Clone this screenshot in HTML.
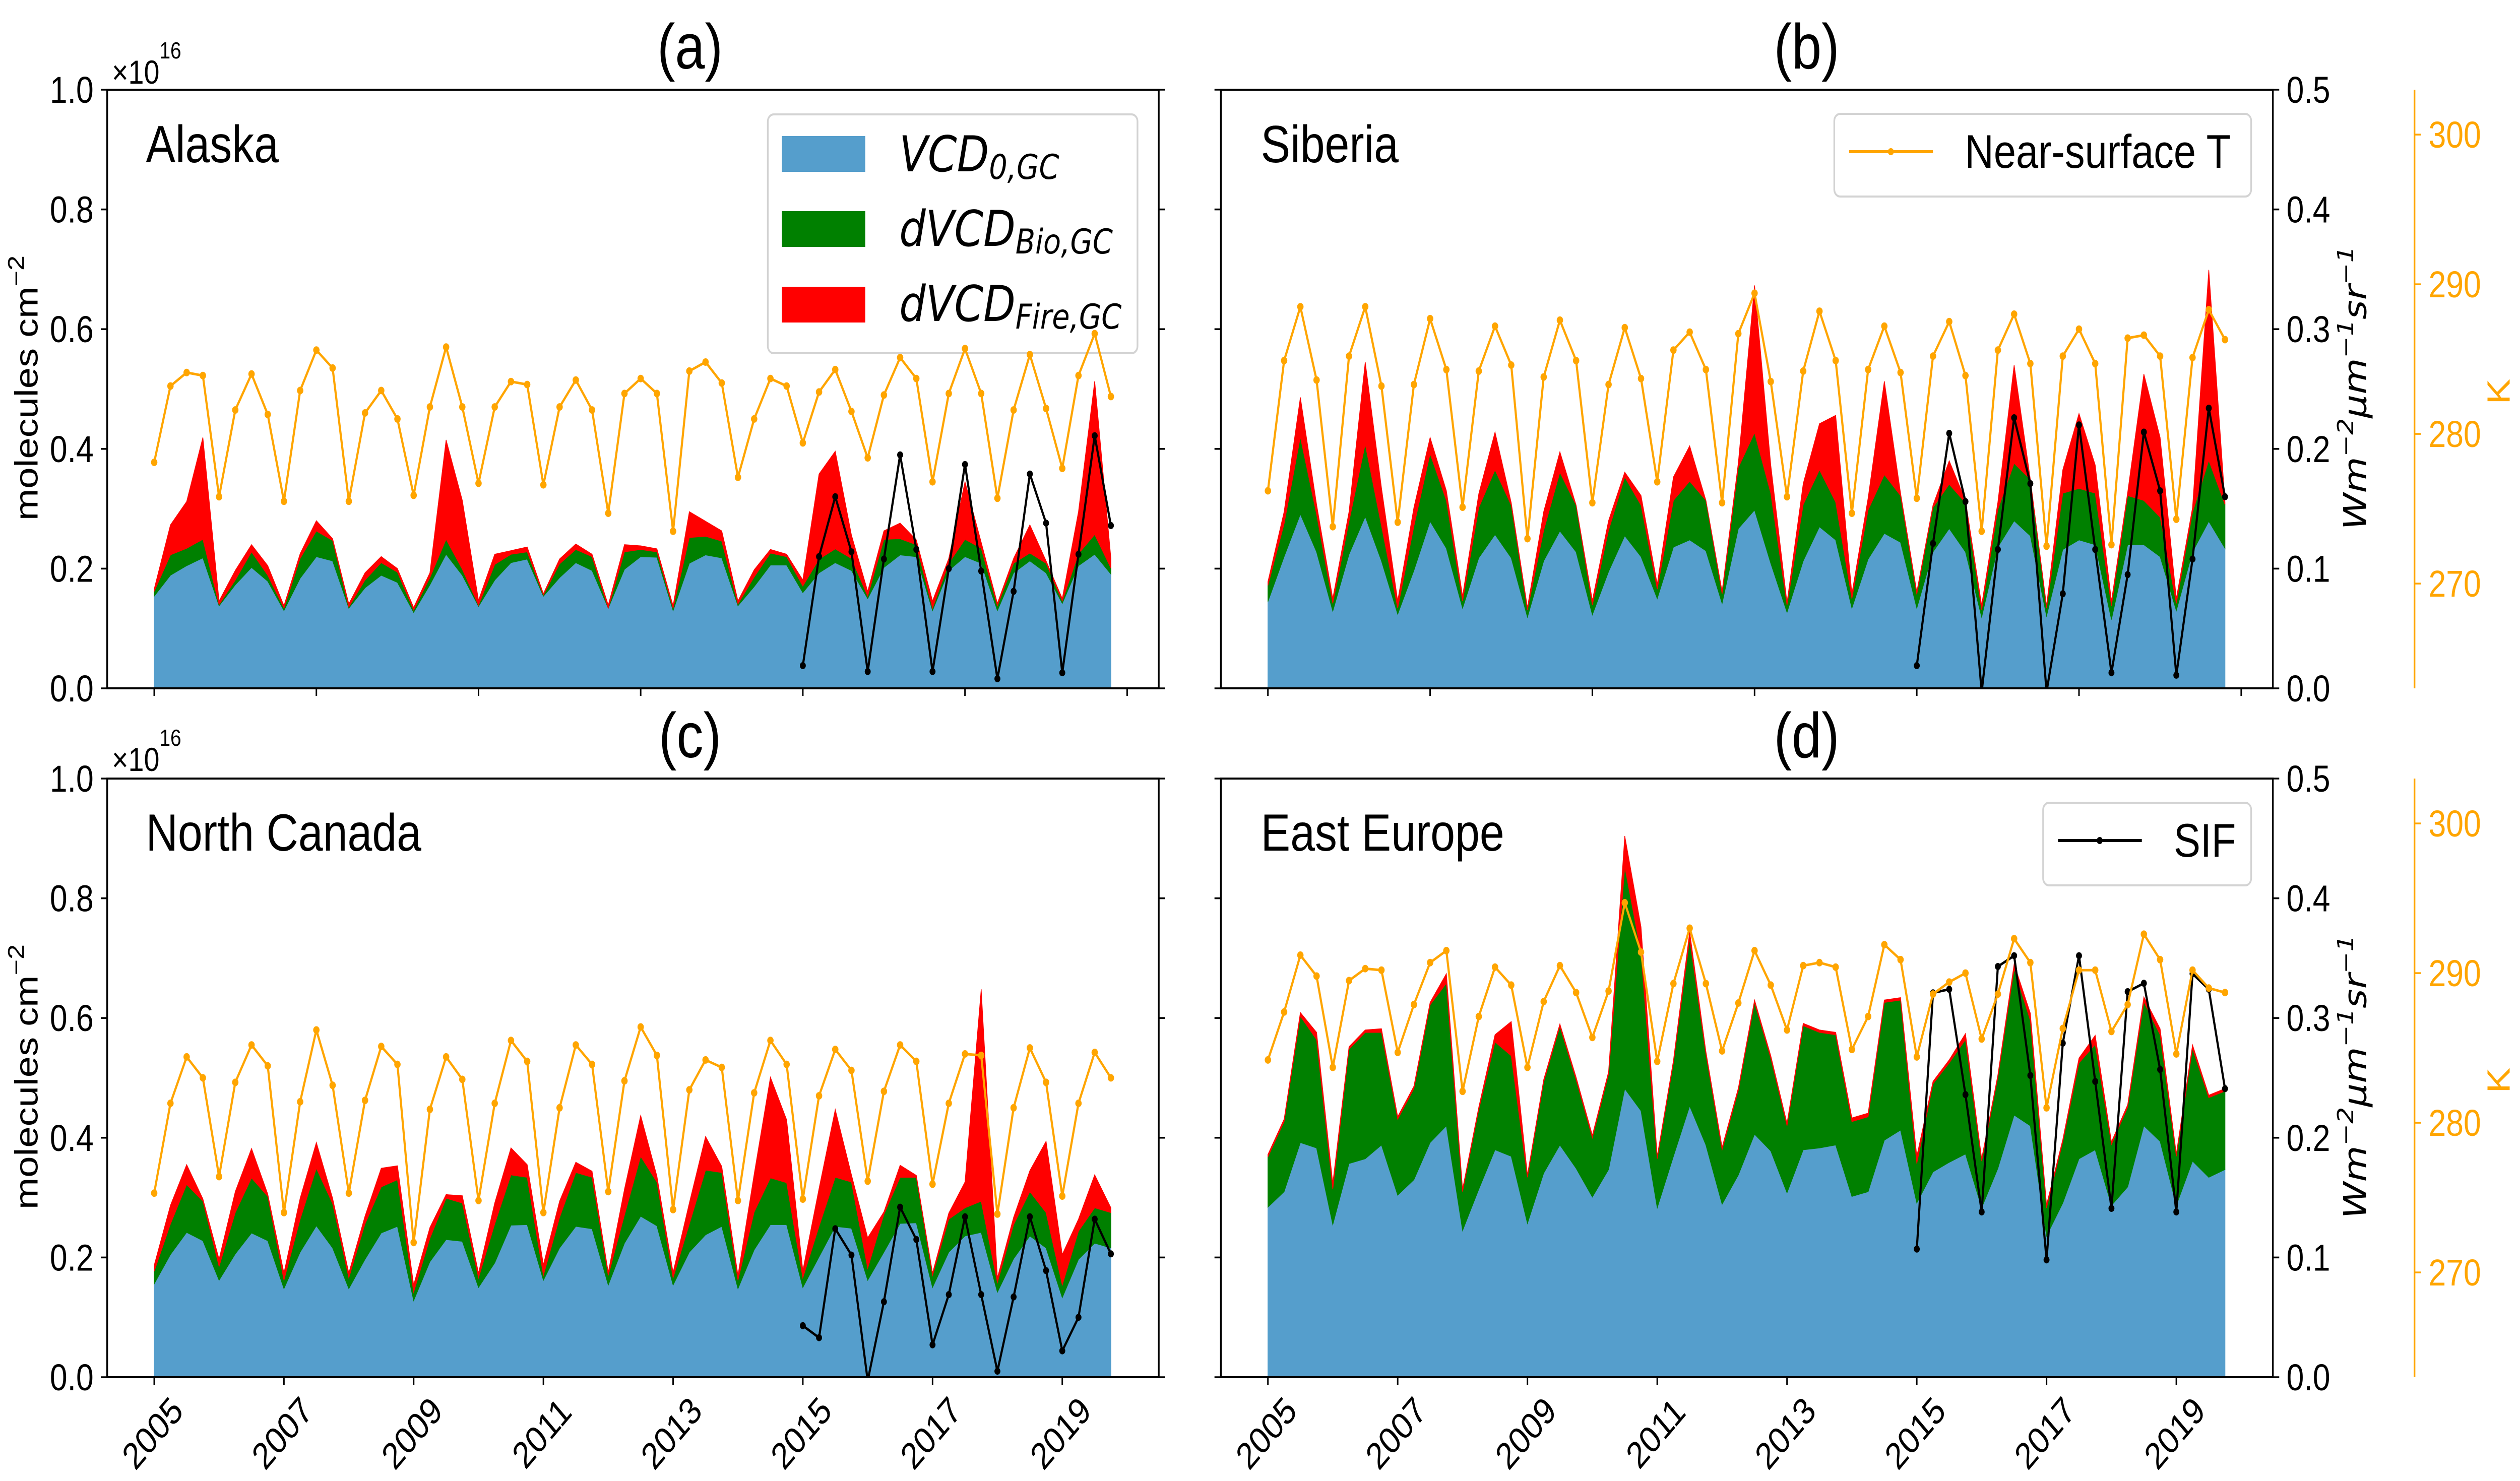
<!DOCTYPE html>
<html><head><meta charset="utf-8"><title>VCD stacks with SIF and temperature</title>
<style>
html,body{margin:0;padding:0;background:#fff;width:100%;height:100%;overflow:hidden;}
svg{display:block;width:100vw;height:100vh;font-family:"Liberation Sans",Arial,sans-serif;}
.tl{font-size:74px;fill:#000;}
.tk{font-size:74px;fill:#FFA500;}
.ttl{font-size:126px;text-anchor:middle;}
.reg{font-size:104px;}
.math{font-family:"DejaVu Sans",sans-serif;font-style:italic;}
</style></head>
<body>
<svg id="fig" xmlns="http://www.w3.org/2000/svg" viewBox="0 0 5924 2939" preserveAspectRatio="none">
<rect x="0" y="0" width="5924" height="2939" fill="#fff"/>
<g id="marks"></g>
<text class="ttl" x="1622" y="136">(a)</text>
<text class="ttl" x="4247" y="136">(b)</text>
<text class="ttl" x="1622" y="1503">(c)</text>
<text class="ttl" x="4247" y="1503">(d)</text>
<text class="reg" x="343" y="322">Alaska</text>
<text class="reg" x="2964" y="322">Siberia</text>
<text class="reg" x="343" y="1688">North Canada</text>
<text class="reg" x="2964" y="1688">East Europe</text>
<text x="263" y="166" font-size="66">×10<tspan font-size="46" dy="-50">16</tspan></text>
<text x="263" y="1530" font-size="66">×10<tspan font-size="46" dy="-50">16</tspan></text>
<text x="0" y="0" font-size="76" text-anchor="middle" transform="translate(88,770) rotate(-90)">molecules cm<tspan font-size="54" dy="-32">−2</tspan></text>
<text x="0" y="0" font-size="76" text-anchor="middle" transform="translate(88,2137) rotate(-90)">molecules cm<tspan font-size="54" dy="-32">−2</tspan></text>
<text class="math" x="0" y="0" font-size="74" text-anchor="middle" transform="translate(5562,770) rotate(-90)">Wm<tspan font-size="52" dy="-30">−2</tspan><tspan dy="30">μm</tspan><tspan font-size="52" dy="-30">−1</tspan><tspan dy="30">sr</tspan><tspan font-size="52" dy="-30">−1</tspan></text>
<text class="math" x="0" y="0" font-size="74" text-anchor="middle" transform="translate(5562,2137) rotate(-90)">Wm<tspan font-size="52" dy="-30">−2</tspan><tspan dy="30">μm</tspan><tspan font-size="52" dy="-30">−1</tspan><tspan dy="30">sr</tspan><tspan font-size="52" dy="-30">−1</tspan></text>
<text x="0" y="0" font-size="76" fill="#FFA500" text-anchor="middle" transform="translate(5900,777) rotate(-90)">K</text>
<text x="0" y="0" font-size="76" fill="#FFA500" text-anchor="middle" transform="translate(5900,2144) rotate(-90)">K</text>
<g id="legends"></g>
</svg>
<script>
const xTickLabels = ['2005','2007','2009','2011','2013','2015','2017','2019'];
const bottomXTicks = [0,8,16,24,32,40,48,56];
const topXTicks = [0,10,20,30,40,50,60];
const leftTicks = [0,0.2,0.4,0.6,0.8,1.0];
const leftTickLabels = ['0.0','0.2','0.4','0.6','0.8','1.0'];
const sifTicks = [0,0.1,0.2,0.3,0.4,0.5];
const sifTickLabels = ['0.0','0.1','0.2','0.3','0.4','0.5'];
const kTicks = [270,280,290,300];
const kTickLabels = ['270','280','290','300'];
const sifStartIndex = 40;

const alaskaVcd0 = [0.154,0.189,0.205,0.218,0.138,0.173,0.202,0.179,0.130,0.184,0.220,0.213,0.134,0.168,0.189,0.177,0.127,0.173,0.224,0.189,0.137,0.181,0.210,0.216,0.154,0.185,0.210,0.197,0.134,0.199,0.220,0.219,0.130,0.209,0.223,0.218,0.138,0.170,0.206,0.206,0.160,0.193,0.210,0.197,0.150,0.202,0.223,0.220,0.130,0.197,0.220,0.209,0.130,0.193,0.213,0.193,0.142,0.205,0.224,0.191];
const alaskaBio = [0.008,0.034,0.029,0.031,0.002,0.008,0.026,0.010,0.004,0.033,0.043,0.034,0.002,0.013,0.021,0.017,0.004,0.012,0.025,0.010,0.002,0.026,0.014,0.012,0.002,0.023,0.022,0.023,0.000,0.029,0.012,0.009,0.004,0.043,0.031,0.028,0.003,0.016,0.020,0.014,0.011,0.023,0.023,0.020,0.004,0.047,0.027,0.020,0.004,0.012,0.029,0.025,0.008,0.016,0.013,0.016,0.004,0.020,0.033,0.010];
const alaskaFire = [0.004,0.050,0.078,0.170,0.006,0.016,0.012,0.016,0.004,0.008,0.017,0.003,0.005,0.012,0.010,0.006,0.004,0.008,0.166,0.115,0.008,0.017,0.006,0.008,0.002,0.008,0.009,0.004,0.005,0.012,0.006,0.005,0.004,0.043,0.025,0.017,0.005,0.012,0.006,0.004,0.010,0.142,0.163,0.039,0.008,0.014,0.026,0.008,0.012,0.008,0.096,0.010,0.004,0.008,0.047,0.004,0.004,0.070,0.256,0.016];
const alaskaTemp = [278.1,283.2,284.1,283.9,275.8,281.6,284.0,281.3,275.5,282.9,285.6,284.4,275.5,281.4,282.9,281.0,275.9,281.8,285.8,281.8,276.7,281.8,283.5,283.3,276.6,281.8,283.6,281.6,274.7,282.7,283.7,282.7,273.5,284.2,284.8,283.4,277.1,281.0,283.7,283.2,279.4,282.8,284.3,281.5,278.4,282.6,285.1,283.7,276.8,282.7,285.7,282.7,275.7,281.6,285.3,281.7,277.7,283.9,286.7,282.5];
const alaskaSif = [0.019,0.110,0.160,0.114,0.014,0.108,0.195,0.116,0.014,0.100,0.187,0.098,0.008,0.081,0.179,0.138,0.013,0.112,0.211,0.136];

const siberiaVcd0 = [0.145,0.220,0.291,0.228,0.129,0.224,0.287,0.213,0.124,0.197,0.279,0.234,0.134,0.218,0.257,0.218,0.119,0.213,0.263,0.228,0.123,0.195,0.255,0.220,0.150,0.236,0.248,0.230,0.142,0.267,0.298,0.209,0.127,0.213,0.270,0.248,0.134,0.216,0.259,0.244,0.134,0.228,0.267,0.228,0.119,0.236,0.280,0.255,0.121,0.232,0.248,0.240,0.115,0.240,0.240,0.220,0.130,0.228,0.279,0.234];
const siberiaBio = [0.027,0.055,0.129,0.063,0.013,0.055,0.121,0.059,0.010,0.074,0.113,0.080,0.012,0.084,0.108,0.088,0.012,0.051,0.098,0.078,0.016,0.069,0.098,0.086,0.016,0.078,0.098,0.084,0.016,0.102,0.129,0.117,0.012,0.094,0.095,0.063,0.016,0.082,0.098,0.078,0.023,0.074,0.074,0.082,0.012,0.063,0.096,0.094,0.013,0.094,0.086,0.086,0.023,0.082,0.074,0.066,0.012,0.066,0.102,0.073];
const siberiaFire = [0.006,0.020,0.066,0.016,0.008,0.016,0.137,0.063,0.012,0.031,0.027,0.016,0.008,0.023,0.063,0.004,0.004,0.031,0.034,0.000,0.008,0.016,0.008,0.016,0.008,0.039,0.059,0.000,0.004,0.008,0.246,0.047,0.004,0.035,0.077,0.145,0.008,0.020,0.156,0.004,0.004,0.004,0.039,0.004,0.008,0.012,0.164,0.000,0.004,0.039,0.125,0.047,0.008,0.005,0.211,0.133,0.008,0.008,0.318,0.004];
const siberiaTemp = [276.2,284.9,288.5,283.6,273.8,285.2,288.5,283.2,274.1,283.3,287.7,284.3,275.1,284.2,287.2,284.6,273.0,283.8,287.6,284.9,275.4,283.3,287.1,283.7,276.8,285.6,286.8,284.3,275.4,286.7,289.4,283.5,275.8,284.2,288.2,284.9,274.7,284.3,287.2,284.1,275.7,285.2,287.5,283.9,273.5,285.6,288.0,284.7,272.5,285.2,287.0,284.7,272.6,286.4,286.6,285.2,274.3,285.1,288.3,286.3];
const siberiaSif = [0.019,0.121,0.213,0.156,-0.003,0.116,0.226,0.171,-0.003,0.079,0.220,0.116,0.013,0.095,0.214,0.165,0.011,0.108,0.234,0.160];

const canadaVcd0 = [0.156,0.205,0.242,0.228,0.162,0.206,0.241,0.228,0.148,0.209,0.253,0.216,0.148,0.197,0.241,0.252,0.128,0.193,0.230,0.227,0.150,0.191,0.254,0.255,0.162,0.216,0.252,0.248,0.154,0.224,0.269,0.253,0.154,0.209,0.238,0.252,0.148,0.213,0.255,0.255,0.150,0.201,0.252,0.249,0.162,0.209,0.257,0.258,0.150,0.209,0.236,0.242,0.142,0.198,0.236,0.216,0.133,0.197,0.224,0.216];
const canadaBio = [0.021,0.051,0.080,0.066,0.023,0.069,0.092,0.074,0.014,0.055,0.096,0.074,0.018,0.059,0.077,0.078,0.014,0.039,0.069,0.064,0.016,0.065,0.084,0.079,0.008,0.051,0.090,0.086,0.016,0.047,0.100,0.073,0.012,0.047,0.108,0.090,0.014,0.063,0.078,0.070,0.016,0.051,0.082,0.077,0.020,0.063,0.077,0.076,0.020,0.055,0.047,0.052,0.016,0.057,0.074,0.059,0.021,0.047,0.059,0.059];
const canadaFire = [0.010,0.031,0.033,0.004,0.012,0.035,0.049,0.004,0.012,0.035,0.043,0.009,0.008,0.013,0.031,0.023,0.012,0.018,0.006,0.012,0.008,0.035,0.045,0.021,0.018,0.027,0.017,0.010,0.005,0.043,0.068,0.010,0.009,0.035,0.056,0.010,0.008,0.063,0.168,0.105,0.012,0.063,0.113,0.012,0.051,0.004,0.020,0.003,0.004,0.010,0.043,0.354,0.008,0.012,0.035,0.119,0.051,0.020,0.055,0.008];
const canadaTemp = [275.3,281.3,284.4,283.0,276.4,282.7,285.2,283.8,274.0,281.4,286.2,282.5,275.3,281.5,285.1,283.9,272.0,280.9,284.4,282.9,274.8,281.3,285.5,284.1,274.0,281.0,285.2,283.9,275.4,282.8,286.4,284.5,274.2,282.2,284.2,283.7,274.8,282.0,285.5,283.9,274.9,281.8,284.9,283.5,276.1,282.1,285.2,284.1,275.9,281.3,284.6,284.5,273.9,281.0,285.0,282.7,275.1,281.3,284.7,283.0];
const canadaSif = [0.043,0.033,0.124,0.102,-0.003,0.063,0.142,0.115,0.027,0.069,0.134,0.069,0.005,0.067,0.134,0.089,0.022,0.050,0.132,0.103];

const europeVcd0 = [0.284,0.310,0.392,0.383,0.255,0.357,0.365,0.388,0.304,0.330,0.392,0.420,0.245,0.314,0.380,0.369,0.257,0.341,0.388,0.349,0.301,0.347,0.482,0.445,0.283,0.369,0.453,0.388,0.289,0.338,0.406,0.378,0.308,0.380,0.383,0.388,0.302,0.310,0.396,0.413,0.291,0.343,0.359,0.373,0.283,0.349,0.438,0.420,0.236,0.291,0.365,0.380,0.287,0.318,0.420,0.394,0.287,0.361,0.334,0.347];
const europeBio = [0.084,0.117,0.211,0.181,0.059,0.191,0.211,0.188,0.127,0.152,0.230,0.238,0.065,0.133,0.180,0.168,0.077,0.152,0.198,0.148,0.099,0.159,0.371,0.264,0.082,0.156,0.279,0.152,0.091,0.141,0.220,0.155,0.112,0.207,0.193,0.184,0.125,0.125,0.230,0.217,0.066,0.147,0.166,0.191,0.078,0.152,0.244,0.176,0.047,0.102,0.160,0.176,0.102,0.133,0.207,0.178,0.082,0.188,0.133,0.131];
const europeFire = [0.004,0.004,0.006,0.012,0.010,0.004,0.004,0.006,0.004,0.004,0.004,0.016,0.004,0.004,0.012,0.057,0.004,0.004,0.004,0.004,0.004,0.004,0.051,0.043,0.004,0.004,0.012,0.004,0.004,0.004,0.004,0.004,0.004,0.004,0.004,0.004,0.006,0.006,0.004,0.004,0.012,0.004,0.005,0.010,0.004,0.004,0.008,0.012,0.005,0.004,0.008,0.015,0.004,0.004,0.008,0.010,0.004,0.006,0.004,0.004];
const europeTemp = [284.2,287.4,291.2,289.8,283.7,289.5,290.3,290.2,284.7,287.9,290.7,291.5,282.1,287.1,290.4,289.2,283.7,288.1,290.5,288.7,285.7,288.8,294.7,291.4,284.1,289.3,293.0,289.3,284.8,288.0,291.5,289.2,286.2,290.5,290.7,290.4,284.9,287.1,291.9,290.9,284.4,288.6,289.4,290.0,285.6,288.6,292.3,290.7,281.0,286.3,290.2,290.2,286.1,287.9,292.6,290.9,284.6,290.2,289.0,288.7];
const europeSif = [0.107,0.321,0.324,0.236,0.138,0.343,0.352,0.252,0.098,0.279,0.352,0.247,0.141,0.322,0.329,0.257,0.138,0.337,0.324,0.241];

const NS = 'http://www.w3.org/2000/svg';
const XMIN = -2.9, XMAX = 61.95, KMIN = 263, KMAX = 303;
const panels = [
  {id:'a', x0:252, x1:2724, y0:178, y1:1366, left:true, bottom:false, vcd0:alaskaVcd0, bio:alaskaBio, fire:alaskaFire, temp:alaskaTemp, sif:alaskaSif},
  {id:'b', x0:2870, x1:5343, y0:178, y1:1366, left:false, bottom:false, vcd0:siberiaVcd0, bio:siberiaBio, fire:siberiaFire, temp:siberiaTemp, sif:siberiaSif},
  {id:'c', x0:252, x1:2724, y0:1545, y1:2733, left:true, bottom:true, vcd0:canadaVcd0, bio:canadaBio, fire:canadaFire, temp:canadaTemp, sif:canadaSif},
  {id:'d', x0:2870, x1:5343, y0:1545, y1:2733, left:false, bottom:true, vcd0:europeVcd0, bio:europeBio, fire:europeFire, temp:europeTemp, sif:europeSif}
];
function xS(p,i){ return p.x0 + (i - XMIN)/(XMAX - XMIN)*(p.x1 - p.x0); }
function yL(p,v){ return p.y1 - v*(p.y1 - p.y0); }
function yS(p,v){ return p.y1 - v/0.5*(p.y1 - p.y0); }
function yK(p,v){ return p.y1 - (v - KMIN)/(KMAX - KMIN)*(p.y1 - p.y0); }
function mk(tag, attrs, parent){
  const e = document.createElementNS(NS, tag);
  for (const k in attrs) e.setAttribute(k, attrs[k]);
  parent.appendChild(e);
  return e;
}
const svg = document.getElementById('fig');
const marks = document.getElementById('marks');
const legends = document.getElementById('legends');
const defs = mk('defs', {}, svg);

panels.forEach(p => {
  const g = mk('g', {}, marks);
  
  
  const clip = mk('clipPath', {id:'clip-' + p.id}, defs);
  mk('rect', {x:p.x0, y:p.y0, width:p.x1-p.x0, height:p.y1-p.y0}, clip);
  const dg = mk('g', {'clip-path':'url(#clip-' + p.id + ')'}, g);
  
  

  const n = p.vcd0.length;
  const c1 = [], c2 = [], c3 = [];
  for (let i = 0; i < n; i++) {
    c1.push(p.vcd0[i]);
    c2.push(p.vcd0[i] + p.bio[i]);
    c3.push(p.vcd0[i] + p.bio[i] + p.fire[i]);
  }
  const zero = new Array(n).fill(0);
  const layers = [[zero, c1, '#559ECC', 'vcd0-area'], [c1, c2, '#008000', 'bio-area'], [c2, c3, '#FF0000', 'fire-area']];
  layers.forEach(L => {
    let d = '';
    for (let i = 0; i < n; i++) d += (i ? 'L' : 'M') + xS(p,i).toFixed(1) + ',' + yL(p, L[1][i]).toFixed(1);
    for (let i = n - 1; i >= 0; i--) d += 'L' + xS(p,i).toFixed(1) + ',' + yL(p, L[0][i]).toFixed(1);
    const path = mk('path', {d: d + 'Z', fill: L[2], stroke: L[2], 'stroke-width': 1.5}, dg);
    
    
  });

  let sd = '';
  p.sif.forEach((v, k) => { sd += (k ? 'L' : 'M') + xS(p, sifStartIndex + k).toFixed(1) + ',' + yS(p, v).toFixed(1); });
  const sifLine = mk('path', {d: sd, fill:'none', stroke:'#000', 'stroke-width':5, 'stroke-linejoin':'round'}, dg);
  
  
  p.sif.forEach((v, k) => {
    const c = mk('circle', {cx: xS(p, sifStartIndex + k).toFixed(1), cy: yS(p, v).toFixed(1), r: 7, fill:'#000'}, dg);
    
    
  });

  const sp = mk('rect', {x:p.x0, y:p.y0, width:p.x1-p.x0, height:p.y1-p.y0, fill:'none', stroke:'#000', 'stroke-width':4}, g);
  
  

  leftTicks.forEach((t, k) => {
    const y = yL(p, t);
    const tl = mk('line', {x1:p.x0 - 15, x2:p.x0, y1:y, y2:y, stroke:'#000', 'stroke-width':3.5}, g);
    
    
    if (p.left) {
      const tx = mk('text', {x:220, y:y + 26, 'text-anchor':'end', class:'tl'}, g);
      tx.textContent = leftTickLabels[k];
      
      
    }
  });
  sifTicks.forEach((t, k) => {
    const y = yS(p, t);
    const tl = mk('line', {x1:p.x1, x2:p.x1 + 15, y1:y, y2:y, stroke:'#000', 'stroke-width':3.5}, g);
    
    
    if (!p.left) {
      const tx = mk('text', {x:p.x1 + 32, y:y + 26, class:'tl'}, g);
      tx.textContent = sifTickLabels[k];
      
      
    }
  });
  if (!p.left) {
    const kx = 5676;
    const ks = mk('line', {x1:kx, x2:kx, y1:p.y0, y2:p.y1, stroke:'#FFA500', 'stroke-width':4}, g);
    
    
    kTicks.forEach((t, k) => {
      const y = yK(p, t);
      const tl = mk('line', {x1:kx, x2:kx + 15, y1:y, y2:y, stroke:'#FFA500', 'stroke-width':3.5}, g);
      
      
      const tx = mk('text', {x:kx + 33, y:y + 26, class:'tk'}, g);
      tx.textContent = kTickLabels[k];
      
      
    });
  }
  const xt = p.bottom ? bottomXTicks : topXTicks;
  xt.forEach((t, k) => {
    const x = xS(p, t);
    const tl = mk('line', {x1:x, x2:x, y1:p.y1, y2:p.y1 + 15, stroke:'#000', 'stroke-width':3.5}, g);
    
    
    if (p.bottom) {
      const tx = mk('text', {x:0, y:0, 'text-anchor':'middle', 'dominant-baseline':'central', class:'tl', transform:'translate(' + (x - 4).toFixed(1) + ',2844) rotate(-45)'}, g);
      tx.textContent = xTickLabels[k];
      
      
    }
  });
});

(function(){
  const g = mk('g', {}, legends);
  
  
  mk('rect', {x:1805, y:227, width:869, height:474, rx:14, fill:'#fff', 'fill-opacity':0.8, stroke:'#d3d3d3', 'stroke-width':4}, g);
  const rows = [['#559ECC', 270, 340, 'VCD', '0,GC'], ['#008000', 419, 488, 'dVCD', 'Bio,GC'], ['#FF0000', 569, 637, 'dVCD', 'Fire,GC']];
  rows.forEach(r => {
    const pr = mk('rect', {x:1838, y:r[1], width:196, height:71, fill:r[0]}, g);
    
    
    const t = mk('text', {x:2114, y:r[2], class:'math', 'font-size':98}, g);
    
    
    t.appendChild(document.createTextNode(r[3]));
    const s = mk('tspan', {'font-size':68, dy:15}, t);
    s.textContent = r[4];
  });
})();

panels.forEach(p => {
  const g = mk('g', {'clip-path':'url(#clip-' + p.id + ')'}, legends);
  
  
  let d = '';
  p.temp.forEach((v, i) => { d += (i ? 'L' : 'M') + xS(p,i).toFixed(1) + ',' + yK(p,v).toFixed(1); });
  const ln = mk('path', {d:d, fill:'none', stroke:'#FFA500', 'stroke-width':5, 'stroke-linejoin':'round'}, g);
  
  
  p.temp.forEach((v, i) => {
    const c = mk('circle', {cx:xS(p,i).toFixed(1), cy:yK(p,v).toFixed(1), r:7.5, fill:'#FFA500'}, g);
    
    
  });
});

(function(){
  const specs = [[4312, 226, 980, 164, '#FFA500', 'Near-surface T', 'legend-temperature'], [4803, 1593, 489, 164, '#000', 'SIF', 'legend-sif']];
  specs.forEach(s => {
    const g = mk('g', {}, legends);
    
    
    mk('rect', {x:s[0], y:s[1], width:s[2], height:s[3], rx:14, fill:'#fff', 'fill-opacity':0.8, stroke:'#d3d3d3', 'stroke-width':4}, g);
    const ly = s[1] + 75;
    const l = mk('line', {x1:s[0] + 35, x2:s[0] + 232, y1:ly, y2:ly, stroke:s[4], 'stroke-width':6}, g);
    
    
    mk('circle', {cx:s[0] + 133, cy:ly, r:7, fill:s[4]}, g);
    const t = mk('text', {x:s[0] + 307, y:s[1] + 107, 'font-size':94}, g);
    t.textContent = s[5];
    
    
  });
})();
</script>
</body></html>
